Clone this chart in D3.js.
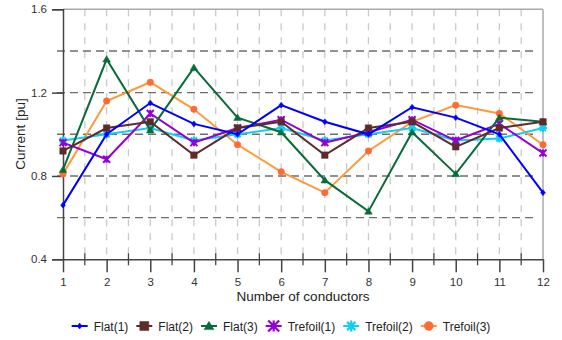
<!DOCTYPE html>
<html><head><meta charset="utf-8">
<script src="https://cdn.jsdelivr.net/npm/d3@7"></script>
<style>body{margin:0;background:#fff}svg{display:block}text{font-family:"Liberation Sans",Arial,sans-serif}</style>
</head><body>
<svg id="c" width="562" height="340"></svg>
<script>
const conductors = [1,2,3,4,5,6,7,8,9,10,11,12];
const seriesNames = ["Flat(1)","Flat(2)","Flat(3)","Trefoil(1)","Trefoil(2)","Trefoil(3)"];
const flat1    = [0.66,1.00,1.15,1.05,1.00,1.14,1.06,1.00,1.13,1.08,1.00,0.72];
const flat2    = [0.92,1.03,1.06,0.90,1.03,1.06,0.90,1.03,1.06,0.94,1.03,1.06];
const flat3    = [0.83,1.36,1.02,1.32,1.08,1.01,0.78,0.63,1.01,0.81,1.08,1.06];
const trefoil1 = [0.96,0.88,1.10,0.96,1.03,1.07,0.96,1.01,1.07,0.97,1.05,0.91];
const trefoil2 = [0.97,1.00,1.03,0.97,1.00,1.03,0.97,1.00,1.03,0.97,0.98,1.03];
const trefoil3 = [0.81,1.16,1.25,1.12,0.95,0.82,0.72,0.92,1.06,1.14,1.10,0.95];
const yTicks = [0.4,0.8,1.2,1.6];
const yGrid = [0.6,0.8,1.0,1.2,1.4];
const xHalf = [1.5,2.5,3.5,4.5,5.5,6.5,7.5,8.5,9.5,10.5,11.5];
const xTitle = "Number of conductors";
const yTitle = "Current [pu]";

const values = [flat1,flat2,flat3,trefoil1,trefoil2,trefoil3];
const lineColors = ["#0000ff","#5e2b2b","#0a6b3a","#9400d3","#12cdf5","#ff9a3c"];
const markColors = ["#0000ff","#5e2b2b","#0a6b3a","#9400d3","#12cdf5","#ff6a35"];

const svg = d3.select("#c");
const x = d3.scaleLinear().domain([1,12]).range([63,543]);
const y = d3.scaleLinear().domain([0.4,1.6]).range([259.3,9.3]);

// vertical light grid
svg.append("g").selectAll("line").data(xHalf.concat(conductors.slice(1,11))).join("line")
  .attr("x1",d=>x(d)).attr("x2",d=>x(d)).attr("y1",y(1.6)).attr("y2",y(0.4))
  .attr("stroke","#c9c9c9").attr("stroke-width",1.3).attr("stroke-dasharray","7,7");
// horizontal dashed grid
svg.append("g").selectAll("line").data(yGrid).join("line")
  .attr("x1",x(1)-6).attr("x2",x(12)-6).attr("y1",d=>y(d)).attr("y2",d=>y(d))
  .attr("stroke","#6e6e6e").attr("stroke-width",1.4).attr("stroke-dasharray","8,5");
// frame top/right
svg.append("line").attr("x1",x(1)).attr("x2",x(12)).attr("y1",y(1.6)).attr("y2",y(1.6)).attr("stroke","#aaa").attr("stroke-width",1.5);
svg.append("line").attr("x1",x(12)).attr("x2",x(12)).attr("y1",y(1.6)).attr("y2",y(0.4)).attr("stroke","#aaa").attr("stroke-width",1.5);

// y axis
const ya = svg.append("g").attr("transform",`translate(${x(1)},0)`)
  .call(d3.axisLeft(y).tickValues(yTicks).tickSize(11).tickPadding(5).tickFormat(d3.format(".1f")));
ya.select(".domain").attr("stroke","#444").attr("stroke-width",1.5);
ya.selectAll(".tick line").attr("stroke","#444").attr("stroke-width",1.5);
ya.selectAll("text").attr("fill","#333").style("font-size","11.5px").style("font-family","'Liberation Sans',Arial,sans-serif");

// x axis
const xa = svg.append("g").attr("transform",`translate(0,${y(0.4)})`)
  .call(d3.axisBottom(x).tickValues(conductors).tickSize(13).tickPadding(6).tickSizeOuter(0).tickFormat(d3.format("d")));
xa.select(".domain").attr("stroke","#444").attr("stroke-width",1.5);
xa.selectAll(".tick line").attr("stroke","#444").attr("stroke-width",1.5);
xa.selectAll("text").attr("fill","#333").style("font-size","11.5px").style("font-family","'Liberation Sans',Arial,sans-serif");
svg.append("g").selectAll("line").data(xHalf).join("line")
  .attr("x1",d=>x(d)).attr("x2",d=>x(d)).attr("y1",y(0.4)-6).attr("y2",y(0.4)+6)
  .attr("stroke","#444").attr("stroke-width",1.3);

// titles
svg.append("text").attr("x",303).attr("y",301).attr("text-anchor","middle")
  .attr("fill","#222").style("font-size","13.5px").text(xTitle);
svg.append("text").attr("transform","translate(25,134) rotate(-90)").attr("text-anchor","middle")
  .attr("fill","#222").style("font-size","13.5px").text(yTitle);

// marker shapes
function markerPath(i, s){
  const h = s/2;
  switch(i){
    case 0: return `M0,${-h}L${h*0.8},0L0,${h}L${-h*0.8},0Z`;
    case 1: return `M${-h},${-h}H${h}V${h}H${-h}Z`;
    case 2: return `M0,${-h*1.05}L${h*1.1},${h*0.8}H${-h*1.1}Z`;
    case 3: return `M${-h},${-h}L${h},${h}M${h},${-h}L${-h},${h}M0,${-h}V${h}`;
    case 4: return `M${-h},0H${h}M0,${-h}V${h}M${-h*0.75},${-h*0.75}L${h*0.75},${h*0.75}M${h*0.75},${-h*0.75}L${-h*0.75},${h*0.75}`;
    case 5: return d3.symbol(d3.symbolCircle, s*s*0.785)();
  }
}
const plotSizes = [6,6.5,7,7,8,6.5];
const legSizes = [6,9,9,11,11,9];
const filled = [true,true,true,false,false,true];

const line = d3.line().x((d,i)=>x(conductors[i])).y(d=>y(d));
const order = [5,4,3,2,1,0];
order.forEach(si=>{
  const g = svg.append("g");
  g.append("path").datum(values[si]).attr("d",line).attr("fill","none")
    .attr("stroke",lineColors[si]).attr("stroke-width",2);
  g.selectAll("path.m").data(values[si]).join("path").attr("class","m")
    .attr("transform",(d,i)=>`translate(${x(conductors[i])},${y(d)})`)
    .attr("d",markerPath(si,plotSizes[si]))
    .attr("fill",filled[si]?markColors[si]:"none")
    .attr("stroke",markColors[si]).attr("stroke-width",filled[si]?0.5:2);
});

// legend
const leg = svg.append("g");
let cx = 0;
seriesNames.forEach((name,i)=>{
  const g = leg.append("g");
  g.append("line").attr("x1",0).attr("x2",16).attr("y1",0).attr("y2",0).attr("stroke",lineColors[i]).attr("stroke-width",2);
  g.append("path").attr("transform","translate(8,0)").attr("d",markerPath(i,legSizes[i]))
    .attr("fill",filled[i]?markColors[i]:"none").attr("stroke",markColors[i]).attr("stroke-width",filled[i]?0.5:2.2);
  const t = g.append("text").attr("x",22).attr("y",4.5).attr("fill","#222").style("font-size","12px").text(name);
  const w = t.node().getComputedTextLength();
  g.attr("transform",`translate(${cx},0)`);
  cx += 22 + w + (i<5?8:0);
});
leg.attr("transform",`translate(${281 - cx/2},326)`);
</script>
</body></html>
